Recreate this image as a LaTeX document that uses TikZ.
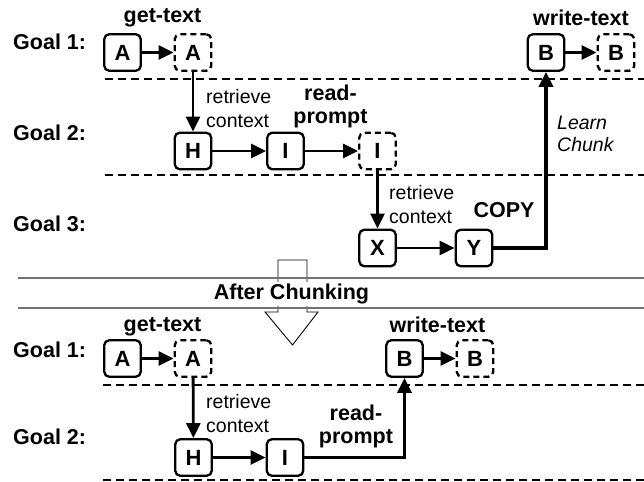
\documentclass[tikz,border=0pt]{standalone}
\usepackage{fontspec}
\setmainfont{Liberation Sans}
\usetikzlibrary{arrows.meta,positioning}
\begin{document}
\begin{tikzpicture}
  [x=1pt,y=-1pt,
   chunk/.style=
     {draw,rounded corners=5pt,line width=2.3pt,minimum size=36.5pt,
      inner sep=0pt,font=\fontsize{22}{24}\selectfont\bfseries},
   ghost/.style=
     {chunk,dash pattern=on 6pt off 4pt},
   goal/.style=
     {anchor=west,inner sep=0pt,font=\fontsize{21.5}{24}\selectfont\bfseries},
   opname/.style=
     {inner sep=0pt,align=center,font=\fontsize{21.5}{23}\selectfont\bfseries},
   note/.style=
     {anchor=west,inner sep=0pt,align=left,font=\fontsize{19.5}{24}\selectfont},
   flow/.style=
     {line width=2.8pt,-{Triangle[length=15pt,width=14pt]}},
   learn/.style=
     {flow,line width=3.5pt},
   sep/.style=
     {line width=2.2pt,dash pattern=on 8pt off 5pt},
   rule/.style=
     {draw=black!55,line width=2.5pt}
  ]
  \useasboundingbox (0,0) rectangle (644,481);

  % before chunking
  \node[goal] (g11) at (13,42)  {Goal 1:};
  \node[goal] (g12) at (13,133) {Goal 2:};
  \node[goal] (g13) at (13,224) {Goal 3:};
  \draw[sep] (105,79)  -- (644,79);
  \draw[sep] (105,175) -- (644,175);

  \node[chunk] (a1)  at (122.5,52.5) {A};
  \node[ghost] (a1c) at (193,52.5)   {A};
  \node[chunk] (b1)  at (546,52.5)   {B};
  \node[ghost] (b1c) at (616,52.5)   {B};
  \node[chunk] (h1)  at (193,151)    {H};
  \node[chunk] (i1)  at (285.5,151)  {I};
  \node[ghost] (i1c) at (377.5,151)  {I};
  \node[chunk] (x1)  at (377.5,248)  {X};
  \node[chunk] (y1)  at (474,248)    {Y};

  \node[opname] (gt1) at (162.5,18) {get-text};
  \node[opname] (wt1) at (581,18)   {write-text};
  \node[opname] (rp1) at (330.5,106) {read-\\prompt};
  \node[opname] (cp1) at (504,210)  {COPY};
  \node[note] (rc1) at (206,109) {retrieve\\context};
  \node[note] (rc2) at (389,205) {retrieve\\context};
  \node[note,font=\fontsize{19.5}{22}\selectfont\itshape] (lc1) at (557,134) {Learn\\Chunk};

  \draw[flow] (a1) -- (a1c);
  \draw[flow] (b1) -- (b1c);
  \draw[flow] (a1c) -- (h1);
  \draw[flow] (h1) -- (i1);
  \draw[flow] (i1) -- (i1c);
  \draw[flow] (i1c) -- (x1);
  \draw[flow] (x1) -- (y1);
  \draw[learn] (y1.east) -| (b1.south);

  % chunking step
  \draw[fill=white,line width=0.9pt]
    (278,260) -- (307,260) -- (307,312) -- (318,312) -- (292.5,345)
    -- (265,312) -- (278,312) -- cycle;
  \draw[rule] (18,278) -- (644,278);
  \draw[rule] (18,308) -- (644,308);
  \node[fill=white,inner xsep=2pt,inner ysep=2pt,text height=15pt,text depth=4.5pt,
        font=\fontsize{21.5}{24}\selectfont\bfseries] (ac) at (291.5,294) {After Chunking};

  % after chunking
  \node[goal] (g21) at (13,350) {Goal 1:};
  \node[goal] (g22) at (13,437) {Goal 2:};
  \draw[sep] (103,385) -- (644,385);
  \draw[sep] (103,480) -- (644,480);

  \node[chunk] (a2)  at (122.5,358.5) {A};
  \node[ghost] (a2c) at (193,358.5)   {A};
  \node[chunk] (b2)  at (404.5,358.5) {B};
  \node[ghost] (b2c) at (475,358.5)   {B};
  \node[chunk] (h2)  at (193.5,457.5) {H};
  \node[chunk] (i2)  at (285,457.5)   {I};

  \node[opname] (gt2) at (162.5,327) {get-text};
  \node[opname] (wt2) at (437.5,325) {write-text};
  \node[opname] (rp2) at (356,426)   {read-\\prompt};
  \node[note] (rc3) at (206,414) {retrieve\\context};

  \draw[flow] (a2) -- (a2c);
  \draw[flow] (b2) -- (b2c);
  \draw[flow] (a2c) -- (h2);
  \draw[flow] (h2) -- (i2);
  \draw[learn] (i2.east) -| (b2.south);
\end{tikzpicture}
\end{document}
